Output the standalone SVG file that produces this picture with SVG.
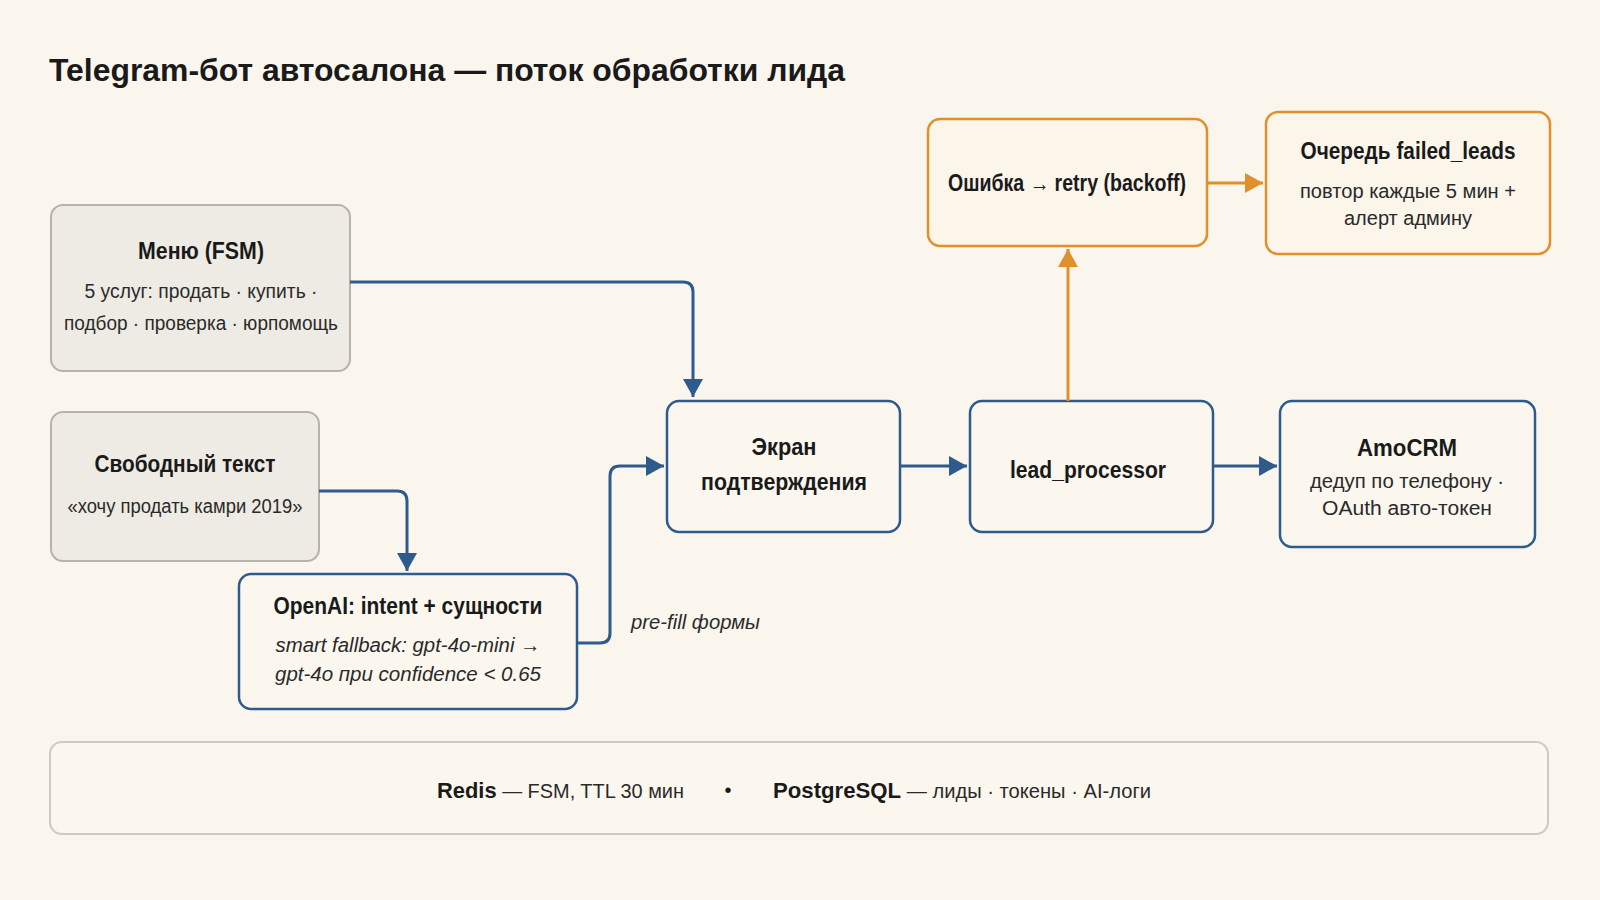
<svg xmlns="http://www.w3.org/2000/svg" width="1600" height="900" viewBox="0 0 1600 900">
<defs>
<marker id="ab" viewBox="0 0 18 20" refX="18" refY="10" markerWidth="18" markerHeight="20" markerUnits="userSpaceOnUse" orient="auto"><path d="M0,0 L18,10 L0,20 z" fill="#2e5b8c"/></marker>
<marker id="ao" viewBox="0 0 18 20" refX="18" refY="10" markerWidth="18" markerHeight="20" markerUnits="userSpaceOnUse" orient="auto"><path d="M0,0 L18,10 L0,20 z" fill="#e08f2a"/></marker>
<style>
text{font-family:"Liberation Sans",Arial,sans-serif;fill:#1a1a1a;text-anchor:middle}
.t{font-size:32px;font-weight:bold;text-anchor:start}
.h{font-size:23px;font-weight:bold}
.b{font-size:20px;fill:#2a2a2a}
.i{font-size:20px;font-style:italic;fill:#2a2a2a}
.gray{fill:#eeebe4;stroke:#b7b2aa;stroke-width:2}
.blue{fill:#fbf7ef;stroke:#2e5b8c;stroke-width:2.5}
.or{fill:#fbf5ea;stroke:#e08f2a;stroke-width:2.5}
.cb{fill:none;stroke:#2e5b8c;stroke-width:3}
.co{fill:none;stroke:#e08f2a;stroke-width:3}
</style>
</defs>
<rect width="1600" height="900" fill="#faf6ee"/>
<text class="t" x="49" y="81" textLength="796" lengthAdjust="spacingAndGlyphs">Telegram-бот автосалона — поток обработки лида</text>

<g id="menu">
<rect class="gray" x="51" y="205" width="299" height="166" rx="12"/>
<text class="h" x="201" y="259" textLength="126" lengthAdjust="spacingAndGlyphs">Меню (FSM)</text>
<text class="b" x="201" y="298" textLength="233" lengthAdjust="spacingAndGlyphs">5 услуг: продать · купить ·</text>
<text class="b" x="201" y="330" textLength="274" lengthAdjust="spacingAndGlyphs">подбор · проверка · юрпомощь</text>
</g>
<g id="free">
<rect class="gray" x="51" y="412" width="268" height="149" rx="12"/>
<text class="h" x="185" y="472" textLength="181" lengthAdjust="spacingAndGlyphs">Свободный текст</text>
<text class="b" x="185" y="513" textLength="235" lengthAdjust="spacingAndGlyphs">«хочу продать камри 2019»</text>
</g>
<g id="openai">
<rect class="blue" x="239" y="574" width="338" height="135" rx="12"/>
<text class="h" x="408" y="614" textLength="269" lengthAdjust="spacingAndGlyphs">OpenAI: intent + сущности</text>
<text class="i" x="408" y="652" textLength="265" lengthAdjust="spacingAndGlyphs">smart fallback: gpt-4o-mini →</text>
<text class="i" x="408" y="681" textLength="266" lengthAdjust="spacingAndGlyphs">gpt-4o при confidence &lt; 0.65</text>
</g>
<g id="confirm">
<rect class="blue" x="667" y="401" width="233" height="131" rx="12"/>
<text class="h" x="784" y="455" textLength="65" lengthAdjust="spacingAndGlyphs">Экран</text>
<text class="h" x="784" y="490" textLength="166" lengthAdjust="spacingAndGlyphs">подтверждения</text>
</g>
<g id="lead">
<rect class="blue" x="970" y="401" width="243" height="131" rx="12"/>
<text class="h" x="1088" y="478" textLength="156" lengthAdjust="spacingAndGlyphs">lead_processor</text>
</g>
<g id="amocrm">
<rect class="blue" x="1280" y="401" width="255" height="146" rx="12"/>
<text class="h" x="1407" y="456" textLength="100" lengthAdjust="spacingAndGlyphs">AmoCRM</text>
<text class="b" x="1407" y="488" textLength="194" lengthAdjust="spacingAndGlyphs">дедуп по телефону ·</text>
<text class="b" x="1407" y="515" textLength="170" lengthAdjust="spacingAndGlyphs">OAuth авто-токен</text>
</g>
<g id="error">
<rect class="or" x="928" y="119" width="279" height="127" rx="12"/>
<text class="h" x="1067" y="191" textLength="238" lengthAdjust="spacingAndGlyphs">Ошибка → retry (backoff)</text>
</g>
<g id="failed">
<rect class="or" x="1266" y="112" width="284" height="142" rx="12"/>
<text class="h" x="1408" y="159" textLength="215" lengthAdjust="spacingAndGlyphs">Очередь failed_leads</text>
<text class="b" x="1408" y="198" textLength="216" lengthAdjust="spacingAndGlyphs">повтор каждые 5 мин +</text>
<text class="b" x="1408" y="225" textLength="128" lengthAdjust="spacingAndGlyphs">алерт админу</text>
</g>
<g id="storage">
<rect x="50" y="742" width="1498" height="92" rx="12" fill="#fbf7ef" stroke="#cfcac1" stroke-width="2"/>
<text x="437" y="798" textLength="247" lengthAdjust="spacingAndGlyphs" style="text-anchor:start;font-size:22px"><tspan font-weight="bold">Redis</tspan><tspan font-size="20" fill="#2a2a2a"> — FSM, TTL 30 мин</tspan></text>
<text x="728" y="797" style="font-size:20px">•</text>
<text x="773" y="798" textLength="378" lengthAdjust="spacingAndGlyphs" style="text-anchor:start;font-size:22px"><tspan font-weight="bold">PostgreSQL</tspan><tspan font-size="20" fill="#2a2a2a"> — лиды · токены · AI-логи</tspan></text>
</g>

<g id="connectors">
<path class="cb" d="M350,282 H683 Q693,282 693,292 V397" marker-end="url(#ab)"/>
<path class="cb" d="M319,491 H397 Q407,491 407,501 V571" marker-end="url(#ab)"/>
<path class="cb" d="M577,643 H600 Q610,643 610,633 V476 Q610,466 620,466 H664" marker-end="url(#ab)"/>
<path class="cb" d="M900,466 H967" marker-end="url(#ab)"/>
<path class="cb" d="M1213,466 H1277" marker-end="url(#ab)"/>
<path class="co" d="M1068,401 V249" marker-end="url(#ao)"/>
<path class="co" d="M1207,183 H1263" marker-end="url(#ao)"/>
<text class="i" x="631" y="629" textLength="129" lengthAdjust="spacingAndGlyphs" style="text-anchor:start">pre-fill формы</text>
</g>
</svg>
